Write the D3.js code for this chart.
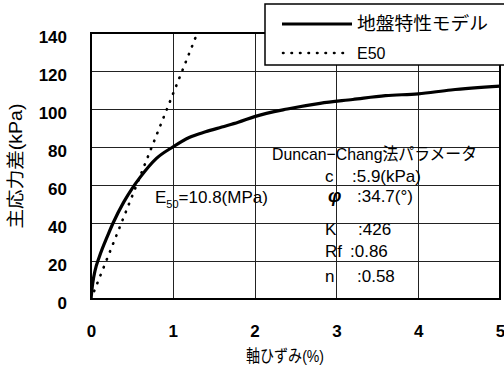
<!DOCTYPE html>
<html>
<head>
<meta charset="utf-8">
<script src="https://cdn.jsdelivr.net/npm/d3@7"></script>
<style>
  body { margin: 0; background: #fff; }
  svg { display: block; }
  text { font-family: "Liberation Sans", Arial, "Noto Sans CJK JP", sans-serif; fill: #000; }
</style>
</head>
<body>
<svg id="chart" width="504" height="366"></svg>
<script>
// stress-strain curve (ground property model)
var strain = [0, 0.02, 0.05, 0.1, 0.2, 0.27, 0.4, 0.5, 0.6, 0.8, 1.0, 1.2, 1.4, 1.6, 1.8, 2.0, 2.4, 2.8, 3.2, 3.6, 4.0, 4.4, 5.0];
var stress = [0, 8, 15, 22, 33, 40, 51, 58, 64, 74, 80, 85, 88, 90.5, 93, 96, 100, 103, 105, 107, 108, 110, 112];

// E50 secant line
var e50Strain = [0, 1.3];
var e50Stress = [0, 140];

var xTicks = [0, 1, 2, 3, 4, 5];
var yTicks = [0, 20, 40, 60, 80, 100, 120, 140];

var legendLabels = ["地盤特性モデル", "E50"];
var paramTitle = "Duncan−Chang法パラメータ";
var paramNames = ["c", "φ", "K", "Rf", "n"];
var paramValues = [":5.9(kPa)", ":34.7(°)", ":426", ":0.86", ":0.58"];

var PLOT_LEFT = 91, PLOT_RIGHT = 500, PLOT_TOP = 33, PLOT_BOTTOM = 299;

var svg = d3.select("#chart");

var x = d3.scaleLinear().domain([0, 5]).range([PLOT_LEFT, PLOT_RIGHT]);
var y = d3.scaleLinear().domain([0, 140]).range([PLOT_BOTTOM, PLOT_TOP]);

svg.append("defs").append("clipPath").attr("id", "plotClip")
  .append("rect")
  .attr("x", PLOT_LEFT).attr("y", PLOT_TOP)
  .attr("width", PLOT_RIGHT - PLOT_LEFT).attr("height", PLOT_BOTTOM - PLOT_TOP);

// grid
var grid = svg.append("g").attr("stroke", "#222").attr("stroke-width", 1);
xTicks.slice(1, -1).forEach(function (t) {
  grid.append("line")
    .attr("x1", Math.round(x(t)) + 0.5).attr("x2", Math.round(x(t)) + 0.5)
    .attr("y1", PLOT_TOP).attr("y2", PLOT_BOTTOM);
});
yTicks.slice(1, -1).forEach(function (t) {
  grid.append("line")
    .attr("x1", PLOT_LEFT).attr("x2", PLOT_RIGHT)
    .attr("y1", Math.round(y(t)) + 0.5).attr("y2", Math.round(y(t)) + 0.5);
});

// frame
svg.append("rect")
  .attr("x", PLOT_LEFT).attr("y", PLOT_TOP)
  .attr("width", PLOT_RIGHT - PLOT_LEFT).attr("height", PLOT_BOTTOM - PLOT_TOP)
  .attr("fill", "none").attr("stroke", "#000").attr("stroke-width", 2);

// axes (labels only)
var yAxis = d3.axisLeft(y).tickValues(yTicks).tickSize(0).tickPadding(24).tickFormat(d3.format("d"));
var yG = svg.append("g").attr("transform", "translate(" + PLOT_LEFT + ",0)").call(yAxis);
yG.select(".domain").remove();
yG.selectAll("text")
  .attr("dy", "0.55em")
  .style("font-size", "17px").style("font-weight", "bold");

var xAxis = d3.axisBottom(x).tickValues(xTicks).tickSize(0).tickPadding(26).tickFormat(d3.format("d"));
var xG = svg.append("g").attr("transform", "translate(0," + PLOT_BOTTOM + ")").call(xAxis);
xG.select(".domain").remove();
xG.selectAll("text")
  .style("font-size", "17px").style("font-weight", "bold");

// axis titles
svg.append("text")
  .attr("transform", "translate(22,166) rotate(-90)")
  .attr("text-anchor", "middle")
  .attr("textLength", 125).attr("lengthAdjust", "spacingAndGlyphs")
  .style("font-size", "18px")
  .text("主応力差(kPa)");

svg.append("text")
  .attr("x", 285).attr("y", 362)
  .attr("text-anchor", "middle")
  .attr("textLength", 78).attr("lengthAdjust", "spacingAndGlyphs")
  .style("font-size", "17px")
  .text("軸ひずみ(%)");

// curves
var line = d3.line()
  .x(function (d) { return x(d[0]); })
  .y(function (d) { return y(d[1]); })
  .curve(d3.curveMonotoneX);

var plot = svg.append("g").attr("clip-path", "url(#plotClip)");

plot.append("path")
  .datum(d3.zip(strain, stress))
  .attr("d", line)
  .attr("fill", "none").attr("stroke", "#000").attr("stroke-width", 3.2)
  .attr("stroke-linejoin", "round");

plot.append("path")
  .datum(d3.zip(e50Strain, e50Stress))
  .attr("d", d3.line().x(function (d) { return x(d[0]); }).y(function (d) { return y(d[1]); }))
  .attr("fill", "none").attr("stroke", "#000").attr("stroke-width", 2.6)
  .attr("stroke-linecap", "round")
  .attr("stroke-dasharray", "0.5,8");

// E50 annotation
var e50Text = svg.append("text").attr("x", 155).attr("y", 203).style("font-size", "17px");
e50Text.append("tspan").text("E");
e50Text.append("tspan").attr("dy", 5).style("font-size", "11px").text("50");
e50Text.append("tspan").attr("dy", -5).text("=10.8(MPa)");

// Duncan-Chang parameters
svg.append("text")
  .attr("x", 272).attr("y", 160)
  .attr("textLength", 205).attr("lengthAdjust", "spacingAndGlyphs")
  .style("font-size", "17px")
  .text(paramTitle);

var paramBaselines = [182, 202, 235, 257, 282];
var valueX = [352, 357, 358, 350, 357];
paramNames.forEach(function (name, i) {
  svg.append("text")
    .attr("x", name === "φ" ? 328 : 325).attr("y", paramBaselines[i])
    .style("font-size", name === "φ" ? "19px" : "17px")
    .style("font-weight", name === "φ" ? "bold" : "normal")
    .style("font-style", name === "φ" ? "italic" : "normal")
    .text(name);
  svg.append("text")
    .attr("x", valueX[i]).attr("y", paramBaselines[i])
    .style("font-size", "17px")
    .text(paramValues[i]);
});

// legend
var legend = svg.append("g");
legend.append("rect")
  .attr("x", 265).attr("y", 4).attr("width", 260).attr("height", 61)
  .attr("fill", "#fff").attr("stroke", "#000").attr("stroke-width", 1.5);
legend.append("line")
  .attr("x1", 282).attr("x2", 352).attr("y1", 24).attr("y2", 24)
  .attr("stroke", "#000").attr("stroke-width", 3.2);
legend.append("line")
  .attr("x1", 283).attr("x2", 346).attr("y1", 53).attr("y2", 53)
  .attr("stroke", "#000").attr("stroke-width", 2.6)
  .attr("stroke-linecap", "round").attr("stroke-dasharray", "0.5,8");
legend.append("text")
  .attr("x", 357).attr("y", 30)
  .attr("textLength", 131).attr("lengthAdjust", "spacingAndGlyphs")
  .style("font-size", "18px")
  .text(legendLabels[0]);
legend.append("text")
  .attr("x", 357).attr("y", 59)
  .style("font-size", "16px")
  .text(legendLabels[1]);
</script>
</body>
</html>
